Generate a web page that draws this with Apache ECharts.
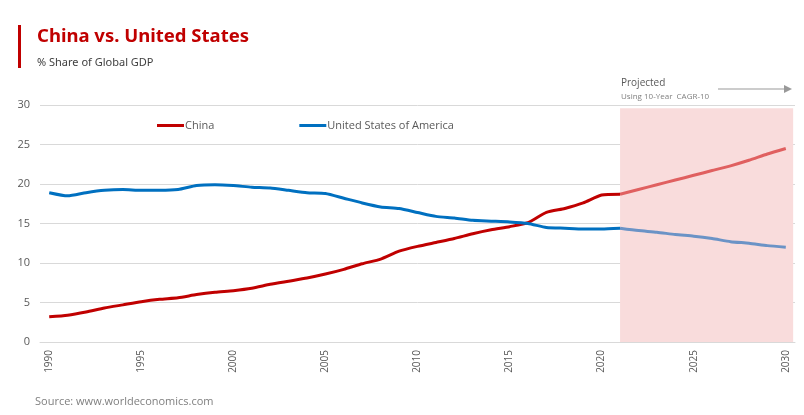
<!DOCTYPE html>
<html>
<head>
<meta charset="utf-8">
<script src="https://cdn.jsdelivr.net/npm/echarts@6/dist/echarts.min.js"></script>
<style>
html,body{margin:0;padding:0;background:#fff;}
#c{width:804px;height:415px;}
</style>
</head>
<body>
<div id="c"></div>
<script>
const years = [1990,1991,1992,1993,1994,1995,1996,1997,1998,1999,2000,2001,2002,2003,2004,2005,2006,2007,2008,2009,2010,2011,2012,2013,2014,2015,2016,2017,2018,2019,2020,2021,2022,2023,2024,2025,2026,2027,2028,2029,2030];
const chinaShare = [3.2,3.4,3.8,4.3,4.7,5.1,5.4,5.6,6.0,6.3,6.5,6.8,7.3,7.7,8.1,8.6,9.2,9.9,10.5,11.5,12.1,12.6,13.1,13.7,14.2,14.6,15.1,16.4,16.9,17.6,18.6,18.7,19.3,19.9,20.5,21.1,21.7,22.3,23.0,23.8,24.5];
const usaShare = [18.9,18.5,18.9,19.2,19.3,19.2,19.2,19.3,19.8,19.9,19.8,19.6,19.5,19.2,18.9,18.8,18.2,17.6,17.1,16.9,16.4,15.9,15.7,15.4,15.3,15.2,15.0,14.5,14.4,14.3,14.3,14.4,14.1,13.9,13.6,13.4,13.1,12.7,12.5,12.2,12.0];
const projectionStart = 2021;
const xTickLabels = [1990,1995,2000,2005,2010,2015,2020,2025,2030];

function part(vals, actual){
  return years.map((y,i)=>[y, (actual ? y<=projectionStart : y>=projectionStart) ? vals[i] : null]);
}
const chart = echarts.init(document.getElementById('c'));
const lbl = {fontFamily:'Open Sans', fontSize:11, color:'#595959'};
chart.setOption({
  animation:false,
  backgroundColor:'#fff',
  title:{
    text:'China vs. United States',
    subtext:'% Share of Global GDP',
    left:32, top:22, itemGap:11,
    textStyle:{fontFamily:'Noto Sans', fontWeight:700, fontSize:18.5, color:'#c00000'},
    subtextStyle:{fontFamily:'Noto Sans', fontSize:11, color:'#404040'}
  },
  legend:{
    data:['China','United States of America'],
    left:152, top:115, itemWidth:27, itemHeight:3, itemGap:85,
    icon:'rect',
    textStyle:{fontFamily:'Open Sans', fontSize:11, color:'#595959', padding:[0,0,0,-4]}
  },
  grid:{left:40, right:9, top:105, bottom:73},
  xAxis:{
    type:'value', min:1989.5, max:2030.5,
    axisLine:{show:true, lineStyle:{color:'#d9d9d9'}},
    axisTick:{show:false},
    splitLine:{show:false},
    axisLabel:{rotate:90, margin:8, fontSize:10, customValues:xTickLabels, formatter:v=>String(v), fontFamily:'Open Sans', color:'#595959'}
  },
  yAxis:{
    type:'value', min:0, max:30, interval:5,
    axisLine:{show:false}, axisTick:{show:false},
    splitLine:{lineStyle:{color:'#d9d9d9'}},
    axisLabel:Object.assign({margin:10}, lbl)
  },
  series:[
    {name:'China', type:'line', data:part(chinaShare,true), symbol:'none', smooth:0.2, z:5,
     lineStyle:{width:3, color:'#c00000'}, itemStyle:{color:'#c00000'},
     markArea:{silent:true, itemStyle:{color:'#f9dcdc'}, data:[[{xAxis:projectionStart, yAxis:0},{xAxis:2030.4, yAxis:29.6}]]}},
    {name:'United States of America', type:'line', data:part(usaShare,true), symbol:'none', smooth:0.2, z:5,
     lineStyle:{width:3, color:'#0070c0'}, itemStyle:{color:'#0070c0'}},
    {name:'China projected', type:'line', data:part(chinaShare,false), symbol:'none', smooth:0.2, z:4,
     lineStyle:{width:3, color:'#e06060'}, itemStyle:{color:'#e06060'}},
    {name:'USA projected', type:'line', data:part(usaShare,false), symbol:'none', smooth:0.2, z:4,
     lineStyle:{width:3, color:'#6b93c6'}, itemStyle:{color:'#6b93c6'}}
  ],
  graphic:[
    {type:'rect', shape:{x:18,y:25,width:3,height:43}, style:{fill:'#c00000'}},
    {type:'text', left:621, top:78, style:{text:'Projected', fontFamily:'Open Sans', fontSize:10, fill:'#595959'}},
    {type:'text', left:621, top:93, style:{text:'Using 10-Year  CAGR-10', fontFamily:'Open Sans', fontSize:8, fill:'#808080'}},
    {type:'line', shape:{x1:718,y1:89,x2:786,y2:89}, style:{stroke:'#999', lineWidth:1}},
    {type:'polygon', shape:{points:[[784,85],[792,89],[784,93]]}, style:{fill:'#999'}},
    {type:'text', left:35, top:396, style:{text:'Source: www.worldeconomics.com', fontFamily:'Open Sans', fontSize:11, fill:'#7f7f7f'}}
  ]
});
</script>
</body>
</html>
